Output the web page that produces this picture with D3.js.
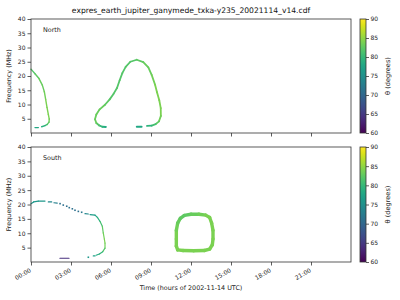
<!DOCTYPE html>
<html><head><meta charset="utf-8">
<script src="https://cdn.jsdelivr.net/npm/d3@7"></script>
<style>body{margin:0;background:#fff}svg{display:block;font-family:"DejaVu Sans",sans-serif}</style>
</head><body><svg id="c" width="400" height="300"></svg>
<script>
// ---- data: [time (h), frequency (MHz), theta (deg)], null = gap ----
const title = "expres_earth_jupiter_ganymede_txka-y235_20021114_v14.cdf";
const panelNames = ["North", "South"];
const xTicks = [0, 3, 6, 9, 12, 15, 18, 21];
const xTickLabels = ["00:00","03:00","06:00","09:00","12:00","15:00","18:00","21:00"];
const yTicks = [5, 10, 15, 20, 25, 30, 35, 40];
const cTicks = [60, 65, 70, 75, 80, 85, 90];

const northA = [[0,22.4,82],[0.3,20.8,82],[0.6,19.1,83],[0.85,16.8,83],[1.0,14.5,83],[1.1,11.8,84],[1.2,9.0,84],[1.3,6.5,84],[1.37,4.9,84],[1.35,3.8,83],[1.22,3.0,82],[1.05,2.6,80],[0.8,2.2,78],null,[0.55,1.9,78],[0.3,1.9,78]];
const northB = [[5.62,2.1,78],[5.35,2.2,79],[5.1,2.7,81],[4.9,3.5,83],[4.8,4.8,83],[4.9,6.5,83],[5.15,8.3,83],[5.55,9.9,83],[5.9,11.8,82],[6.2,13.8,82],[6.45,15.8,82],[6.65,18.5,82],[6.85,21,82],[7.1,23.2,82],[7.45,25.0,82],[7.93,25.7,82],[8.42,24.9,83],[8.8,23.0,83],[9.05,20.4,83],[9.3,17.0,84],[9.45,14.3,84],[9.62,11.5,84],[9.73,8.75,84],[9.74,6.0,84],[9.6,4.1,83],[9.35,3.1,82],[9.05,2.6,80],[8.7,2.5,79],null,[8.3,2.2,78],[7.93,2.2,78]];
const southC = [[0,20.3,76],[0.2,20.9,76],[0.55,21.2,76],[1.05,21.2,76],null,[1.3,20.9,74],[1.55,20.9,74],null,[1.72,20.6,73],[1.97,20.5,73],null,[4.05,16.8,74],[4.3,16.7,74],null,[4.43,16.5,76],[4.8,16.3,77],[4.98,15.5,78],[5.18,14.1,80],[5.35,12.4,82],[5.42,10.1,83],[5.5,8.0,84],[5.55,6.6,84],[5.55,4.8,83],[5.38,3.6,81],[5.13,2.8,79],[4.88,2.35,78],null,[4.8,2.1,77],[4.67,2.1,77],null,[2.17,1.3,64],[2.85,1.3,64]];
const southCDots = [[2.18,20.3,71],[2.42,19.8,71],[2.68,19.4,71],[2.87,18.9,71],[3.1,18.5,71],[3.3,18.0,71],[3.55,17.6,71],[3.8,17.3,72],[4.3,1.65,76]];
const southD = [[11.0,4.2,84],[10.9,5.5,84],[10.9,8,84],[10.9,11,84],[11.0,13.5,83],[11.2,15.2,83],[11.5,16.2,82],[12.0,16.6,83],[12.6,16.6,83],[13.1,16.3,84],[13.4,15.5,84],[13.55,13.5,84],[13.65,11,84],[13.65,8,84],[13.6,6,84],[13.4,4.5,84],[13.0,4.0,84],[12.2,3.9,84],[11.4,4.0,84],[11.0,4.2,84]];

// ---- drawing ----
const svg = d3.select("#c");
const color = d3.scaleSequential(d3.interpolateViridis).domain([60, 90]);
const x = d3.scaleLinear().domain([0, 24]).range([31, 351]);
const panels = [
  {y0: 19, y1: 133, name: panelNames[0], curves: [{d: northA, w: 1.4}, {d: northB, w: 1.8}], dots: []},
  {y0: 147, y1: 262, name: panelNames[1], curves: [{d: southC, w: 1.2}, {d: southD, w: 3.4}], dots: southCDots}
];

svg.append("text").attr("x", 191).attr("y", 13).attr("text-anchor", "middle")
  .attr("font-size", 7.6).attr("fill", "#111").text(title);

const defs = svg.append("defs");
const grad = defs.append("linearGradient").attr("id", "vir").attr("x1", 0).attr("y1", 1).attr("x2", 0).attr("y2", 0);
d3.range(0, 1.0001, 0.05).forEach(t => grad.append("stop").attr("offset", t).attr("stop-color", d3.interpolateViridis(t)));

panels.forEach((p, i) => {
  const y = d3.scaleLinear().domain([0, 40]).range([p.y1, p.y0]);
  const g = svg.append("g");
  p.curves.forEach(c => {
    const pts = c.d;
    for (let k = 0; k < pts.length - 1; k++) {
      const a = pts[k], b = pts[k + 1];
      if (!a || !b) continue;
      g.append("line").attr("x1", x(a[0])).attr("y1", y(a[1])).attr("x2", x(b[0])).attr("y2", y(b[1]))
        .attr("stroke", color((a[2] + b[2]) / 2)).attr("stroke-width", c.w).attr("stroke-linecap", "round");
    }
  });
  p.dots.forEach(d => {
    g.append("rect").attr("x", x(d[0]) - 0.8).attr("y", y(d[1]) - 0.8).attr("width", 1.6).attr("height", 1.6)
      .attr("fill", color(d[2]));
  });
  g.append("rect").attr("x", 31).attr("y", p.y0).attr("width", 320).attr("height", p.y1 - p.y0)
    .attr("fill", "none").attr("stroke", "#333").attr("stroke-width", 0.8);
  const ya = svg.append("g").attr("transform", `translate(31,0)`)
    .call(d3.axisLeft(y).tickValues(yTicks).tickSize(3.5).tickPadding(2));
  ya.select(".domain").remove();
  ya.selectAll("line").attr("stroke", "#333").attr("stroke-width", 0.8);
  ya.selectAll("text").attr("font-size", 6).attr("fill", "#222").attr("font-family", "DejaVu Sans");
  const xa = svg.append("g").attr("transform", `translate(0,${p.y1})`)
    .call(d3.axisBottom(x).tickValues(xTicks).tickSize(3.5).tickFormat((d, j) => i === 1 ? xTickLabels[j] : ""));
  xa.select(".domain").remove();
  xa.selectAll("line").attr("stroke", "#333").attr("stroke-width", 0.8);
  xa.selectAll("text").attr("font-size", 6).attr("fill", "#222").attr("font-family", "DejaVu Sans")
    .attr("text-anchor", "end").attr("dy", "0").attr("y", 0)
    .attr("transform", "translate(0,9.5) rotate(-30)");
  svg.append("text").attr("transform", `translate(11,${(p.y0 + p.y1) / 2}) rotate(-90)`)
    .attr("text-anchor", "middle").attr("font-size", 6.4).attr("fill", "#222").text("Frequency (MHz)");
  svg.append("text").attr("x", 43).attr("y", p.y0 + 13).attr("font-size", 6.4).attr("fill", "#222").text(p.name);
  const cy = d3.scaleLinear().domain([60, 90]).range([p.y1, p.y0]);
  svg.append("rect").attr("x", 360).attr("y", p.y0).attr("width", 6).attr("height", p.y1 - p.y0)
    .attr("fill", "url(#vir)").attr("stroke", "#333").attr("stroke-width", 0.8);
  const ca = svg.append("g").attr("transform", "translate(366,0)")
    .call(d3.axisRight(cy).tickValues(cTicks).tickSize(3).tickPadding(1.5));
  ca.select(".domain").remove();
  ca.selectAll("line").attr("stroke", "#333").attr("stroke-width", 0.8);
  ca.selectAll("text").attr("font-size", 6).attr("fill", "#222").attr("font-family", "DejaVu Sans");
  svg.append("text").attr("transform", `translate(390,${(p.y0 + p.y1) / 2}) rotate(-90)`)
    .attr("text-anchor", "middle").attr("font-size", 6.6).attr("fill", "#222").text("θ (degrees)");
});

svg.append("text").attr("x", 191).attr("y", 290).attr("text-anchor", "middle")
  .attr("font-size", 6.4).attr("fill", "#222").text("Time (hours of 2002-11-14 UTC)");
</script></body></html>
